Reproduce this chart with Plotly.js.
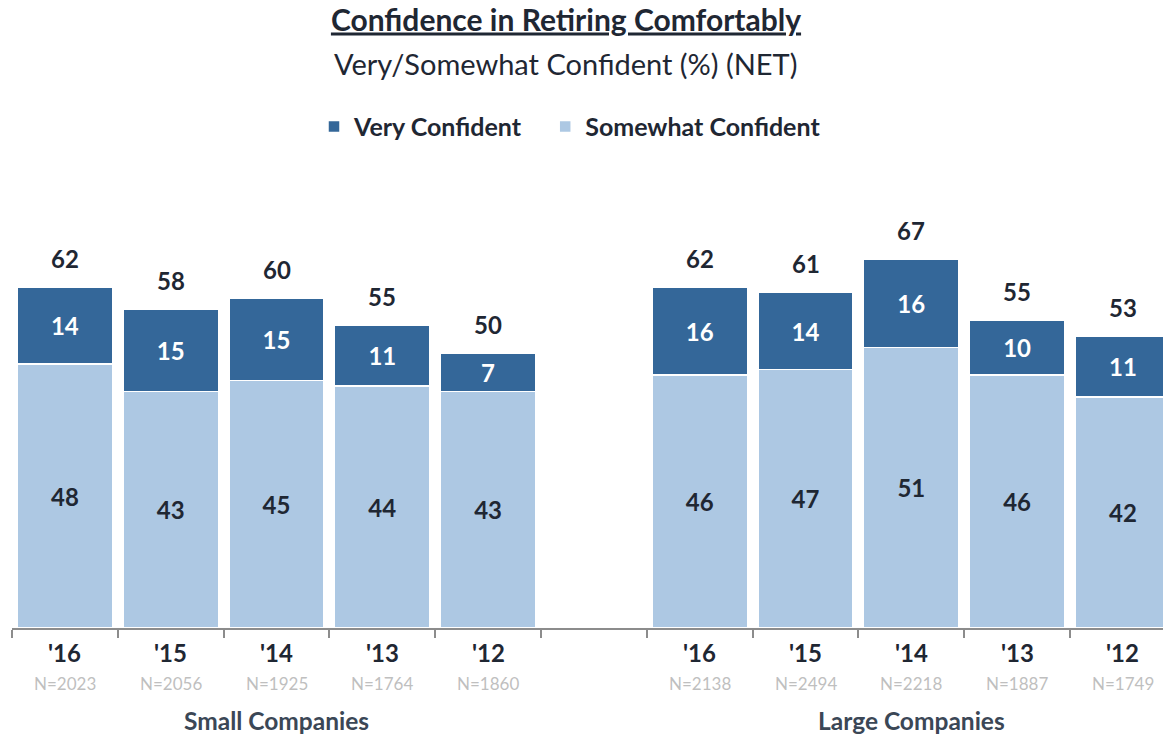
<!DOCTYPE html>
<html>
<head>
<meta charset="utf-8">
<script src="https://cdn.plot.ly/plotly-3.0.1.min.js"></script>
<style>html,body{margin:0;padding:0;overflow:hidden;background:#fff}#chart{width:1163px;height:735px}</style>
</head>
<body>
<div id="chart"></div>
<script>
// ---- data ----
const groups = ["Small Companies", "Large Companies"];
const years = ["'16", "'15", "'14", "'13", "'12"];
const smallN = [2023, 2056, 1925, 1764, 1860];
const largeN = [2138, 2494, 2218, 1887, 1749];
const smallVery = [14, 15, 15, 11, 7];
const smallSomewhat = [48, 43, 45, 44, 43];
const smallNet = [62, 58, 60, 55, 50];
const largeVery = [16, 14, 16, 10, 11];
const largeSomewhat = [46, 47, 51, 46, 42];
const largeNet = [62, 61, 67, 55, 53];
const seriesNames = ["Very Confident", "Somewhat Confident"];

// ---- build ----
const smallIds = years.map(y => "S" + y);
const largeIds = years.map(y => "L" + y);
const gapId = "gap";
const cats = [...smallIds, gapId, ...largeIds];
const very = [...smallVery, null, ...largeVery];
const somewhat = [...smallSomewhat, null, ...largeSomewhat];
const net = [...smallNet, null, ...largeNet];
const ns = [...smallN, null, ...largeN];
const yearLbl = [...years, "", ...years];

const DARK = "#346799", LIGHT = "#adc8e3", TXT = "#1f2733";
const FONT = "Lato, 'Open Sans', sans-serif";
const PADNAME = "\u00A0\u00A0\u00A0";

const traces = [
  {type: "bar", name: seriesNames[1], x: cats, y: somewhat,
   marker: {color: LIGHT, line: {color: "#ffffff", width: 1.5}},
   width: 0.9,
   text: somewhat.map(v => v == null ? "" : String(v)), textposition: "inside",
   insidetextanchor: "middle", constraintext: "none",
   textfont: {family: FONT, size: 24, color: TXT, weight: "bold"},
   hoverinfo: "skip"},
  {type: "bar", name: seriesNames[0] + PADNAME, x: cats, y: very,
   marker: {color: DARK, line: {color: "#ffffff", width: 1.5}},
   width: 0.9,
   text: very.map(v => v == null ? "" : String(v)), textposition: "inside",
   insidetextanchor: "middle", constraintext: "none",
   textfont: {family: FONT, size: 24, color: "#ffffff", weight: "bold"},
   hoverinfo: "skip"}
];

const ann = [];
cats.forEach((c, i) => {
  if (net[i] == null) return;
  ann.push({x: c, y: very[i] + somewhat[i], xref: "x", yref: "y", text: "<b>" + net[i] + "</b>",
    showarrow: false, yanchor: "middle", yshift: 29, font: {family: FONT, size: 24, color: TXT}});
  ann.push({x: c, y: -0.055, xref: "x", yref: "paper", text: "<b>" + yearLbl[i] + "</b>",
    showarrow: false, yanchor: "middle", font: {family: FONT, size: 24, color: TXT}});
  ann.push({x: c, y: -0.125, xref: "x", yref: "paper", text: "N=" + ns[i],
    showarrow: false, yanchor: "middle", font: {family: FONT, size: 17, color: "#bfbfbf"}});
});
ann.push({x: smallIds[2], y: -0.211, xref: "x", yref: "paper", text: "<b>" + groups[0] + "</b>",
  showarrow: false, yanchor: "middle", font: {family: FONT, size: 24.5, color: "#3b4756"}});
ann.push({x: largeIds[2], y: -0.211, xref: "x", yref: "paper", text: "<b>" + groups[1] + "</b>",
  showarrow: false, yanchor: "middle", font: {family: FONT, size: 24.5, color: "#3b4756"}});
ann.push({x: (566 - 12) / 1151, xref: "paper", y: 1.284, yref: "paper", xanchor: "center", yanchor: "middle",
  text: "Very/Somewhat Confident (%) (NET)", showarrow: false,
  font: {family: FONT, size: 29, color: TXT}});

const layout = {
  width: 1163, height: 735,
  margin: {l: 12, r: 0, t: 188, b: 107, pad: 0},
  paper_bgcolor: "#ffffff", plot_bgcolor: "#ffffff",
  font: {family: FONT, color: TXT},
  title: {text: "<b><u>Confidence in Retiring Comfortably</u></b>", x: 566 / 1163, xanchor: "center",
    y: 1 - 20 / 735, yanchor: "middle", yref: "container", font: {family: FONT, size: 30, color: TXT}},
  barmode: "stack",
  bargap: 0.1,
  showlegend: true,
  legend: {orientation: "h", x: (570 - 12) / 1151, xanchor: "center", y: 1.139, yanchor: "middle",
    traceorder: "reversed",
    font: {family: FONT, size: 25, color: TXT, weight: "bold"},
    itemclick: false, itemdoubleclick: false},
  xaxis: {type: "category", categoryorder: "array", categoryarray: cats,
    range: [-0.5, -0.5 + 1151 / 105.8], fixedrange: true,
    showticklabels: false, tickson: "boundaries", ticks: "outside", ticklen: 8, tickwidth: 2,
    tickcolor: "#8c8c8c", showline: true, linecolor: "#8c8c8c", linewidth: 2,
    showgrid: false, zeroline: false},
  yaxis: {range: [0, 80], visible: false, fixedrange: true},
  annotations: ann
};

Plotly.newPlot("chart", traces, layout, {displayModeBar: false, staticPlot: true});
</script>
</body>
</html>
